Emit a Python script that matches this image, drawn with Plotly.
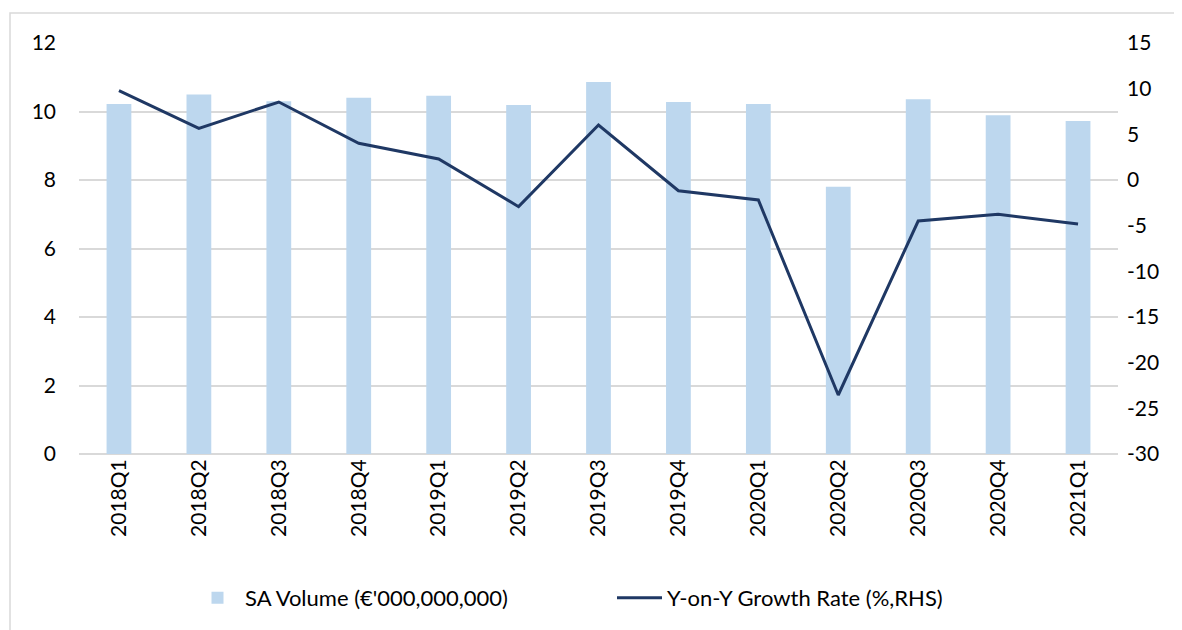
import plotly.graph_objects as go

quarters = ["2018Q1", "2018Q2", "2018Q3", "2018Q4", "2019Q1", "2019Q2", "2019Q3",
            "2019Q4", "2020Q1", "2020Q2", "2020Q3", "2020Q4", "2021Q1"]
sa_volume = [10.22, 10.50, 10.30, 10.40, 10.46, 10.19, 10.86, 10.28, 10.22, 7.80, 10.36, 9.89, 9.72]
yoy_growth = [9.78, 5.66, 8.54, 4.02, 2.30, -2.92, 6.02, -1.17, -2.19, -23.54, -4.49, -3.76, -4.82]
left_ticks = [0, 2, 4, 6, 8, 10, 12]
right_ticks = [-30, -25, -20, -15, -10, -5, 0, 5, 10, 15]

font_family = "Lato, 'Liberation Sans', sans-serif"

fig = go.Figure()
fig.add_trace(go.Bar(
    x=quarters, y=sa_volume, name="SA Volume (€'000,000,000)",
    marker=dict(color="#BDD7EE", line=dict(width=0)), yaxis="y",
))
fig.add_trace(go.Scatter(
    x=quarters, y=yoy_growth, name="Y-on-Y Growth Rate (%,RHS)",
    mode="lines", line=dict(color="#1F3864", width=3), yaxis="y2",
))

fig.update_layout(
    width=1182, height=630,
    margin=dict(l=71, r=72, t=35, b=184),
    paper_bgcolor="white", plot_bgcolor="white",
    font=dict(family=font_family, size=21, color="#000000"),
    bargap=0.69,
    showlegend=True,
    legend=dict(orientation="h", x=(190 - 79) / 1039, xanchor="left", y=-0.35, yanchor="middle",
                font=dict(size=22, color="#000000"), itemwidth=45,
                entrywidth=362, entrywidthmode="pixels"),
    xaxis=dict(tickangle=-90, showgrid=False, showline=False, ticks="",
               tickfont=dict(size=21)),
    yaxis=dict(range=[0, 12], tickvals=left_ticks, ticktext=[str(v) for v in left_ticks],
               showgrid=True, gridcolor="#D9D9D9", gridwidth=1.5,
               zeroline=True, zerolinecolor="#D9D9D9", zerolinewidth=1.5,
               showline=False, ticks="", tickfont=dict(size=21), ticklabelstandoff=22),
    yaxis2=dict(range=[-30, 15], tickvals=right_ticks, ticktext=[str(v) for v in right_ticks],
                overlaying="y", side="right", showgrid=False,
                zeroline=False, showline=False, ticks="", tickfont=dict(size=21),
                ticklabelstandoff=8),
    shapes=[dict(type="rect", xref="paper", yref="paper",
                 x0=-69/1039, x1=1.2, y0=-0.6, y1=1+30/411,
                 line=dict(color="#D9D9D9", width=1.5), fillcolor="rgba(0,0,0,0)")],
)

fig.write_html("out.html")
